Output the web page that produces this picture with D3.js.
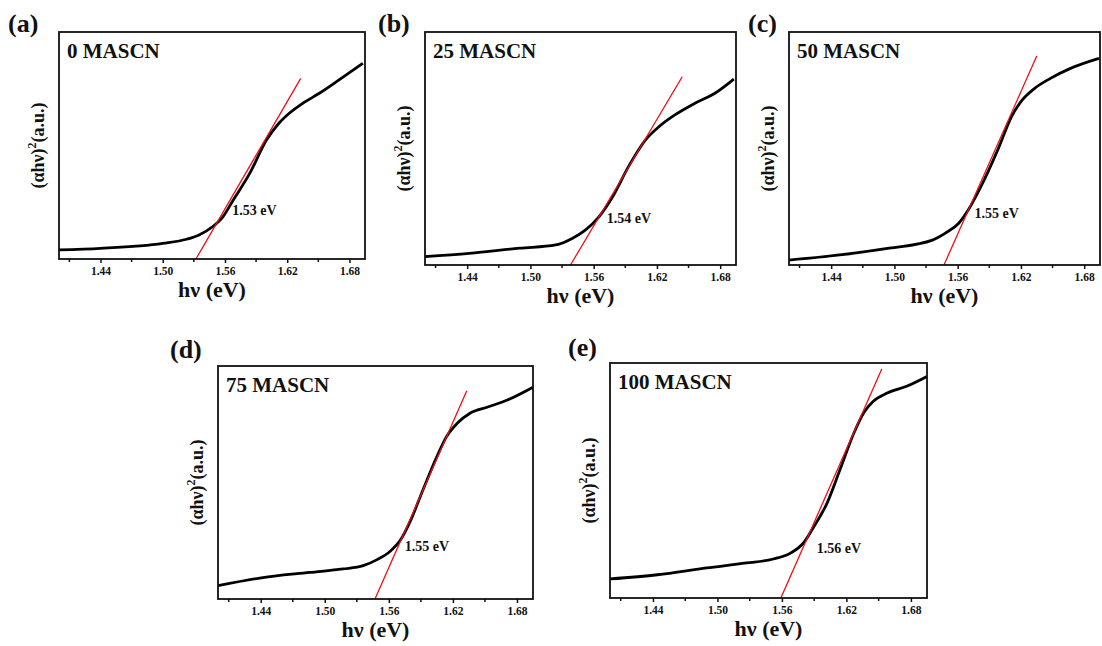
<!DOCTYPE html>
<html lang="en">
<head>
  <meta charset="UTF-8">
  <title>Tauc plots MASCN</title>
  <script src="https://d3js.org/d3.v7.min.js"></script>
  <style>
    body { margin: 0; background: #fff; }
    svg text { font-family: "Liberation Serif", "Times New Roman", serif; font-weight: bold; fill: #111; }
  </style>
</head>
<body>
<svg id="chart" width="1102" height="646"></svg>
<script>
  // Données (y en unités arbitraires, 0 = bas du cadre, 100 = haut)
  const panelTags = ["(a)", "(b)", "(c)", "(d)", "(e)"];
  const samples = ["0 MASCN", "25 MASCN", "50 MASCN", "75 MASCN", "100 MASCN"];
  const gapLabels = ["1.53 eV", "1.54 eV", "1.55 eV", "1.55 eV", "1.56 eV"];
  const xTicks = [1.44, 1.50, 1.56, 1.62, 1.68];
  const xMinorTicks = [1.41, 1.47, 1.53, 1.59, 1.65];

  const hvA  = [1.400, 1.440, 1.500, 1.523, 1.535, 1.548, 1.558, 1.568, 1.584, 1.600, 1.612, 1.622, 1.635, 1.651, 1.670, 1.693];
  const absA = [4.0, 4.7, 6.9, 8.7, 10.6, 14.2, 18.6, 26.0, 37.8, 52.4, 59.8, 64.2, 68.6, 73.0, 78.9, 86.2];

  const hvB  = [1.400, 1.442, 1.490, 1.524, 1.540, 1.552, 1.565, 1.578, 1.593, 1.609, 1.622, 1.637, 1.656, 1.675, 1.693];
  const absB = [3.6, 5.0, 7.2, 8.6, 11.5, 15.0, 20.7, 29.3, 42.2, 53.6, 59.4, 64.4, 69.4, 73.7, 79.8];

  const hvC  = [1.400, 1.448, 1.495, 1.536, 1.548, 1.561, 1.570, 1.582, 1.598, 1.611, 1.620, 1.633, 1.648, 1.667, 1.694];
  const absC = [2.1, 4.3, 7.2, 10.7, 13.6, 17.9, 23.6, 33.6, 49.4, 63.6, 70.1, 75.8, 80.1, 84.4, 88.7];

  const hvD  = [1.400, 1.439, 1.486, 1.517, 1.536, 1.549, 1.561, 1.571, 1.580, 1.592, 1.605, 1.614, 1.624, 1.636, 1.652, 1.671, 1.695];
  const absD = [5.7, 9.0, 11.4, 12.9, 14.3, 16.9, 20.4, 25.4, 33.3, 46.9, 61.1, 69.7, 75.4, 79.7, 82.3, 85.4, 90.9];

  const hvE  = [1.400, 1.444, 1.490, 1.527, 1.552, 1.568, 1.580, 1.589, 1.602, 1.614, 1.627, 1.636, 1.645, 1.658, 1.676, 1.695];
  const absE = [8.1, 9.9, 12.8, 14.9, 16.6, 19.1, 23.4, 29.8, 40.4, 54.6, 70.2, 78.7, 83.7, 87.2, 90.1, 94.3];

  // Droites de Tauc : [x début, x fin] et [y début, y fin]
  const tangentX = [[1.532, 1.633], [1.538, 1.644], [1.547, 1.635], [1.547, 1.633], [1.559, 1.653]];
  const tangentY = [[0, 79.6], [0, 80.8], [0, 89.7], [0, 89.4], [0, 97.6]];

  const hvSeries = [hvA, hvB, hvC, hvD, hvE];
  const absSeries = [absA, absB, absC, absD, absE];

  // Mise en page (pixels)
  const frames = [
    {left: 59,  top: 32,  right: 365,  bottom: 259, tagX: 8,   tagY: 32},
    {left: 425, top: 32,  right: 736,  bottom: 265, tagX: 378, tagY: 32},
    {left: 789, top: 32,  right: 1100, bottom: 265, tagX: 748, tagY: 32},
    {left: 218, top: 366, right: 533,  bottom: 599, tagX: 170, tagY: 358},
    {left: 610, top: 363, right: 927,  bottom: 598, tagX: 568, tagY: 356}
  ];
  const gapLabelAt = [[1.567, 19.4], [1.5725, 18], [1.576, 20.2], [1.575, 20.4], [1.5925, 19.3]];

  const svg = d3.select("#chart");

  frames.forEach((f, i) => {
    const w = f.right - f.left;
    const h = f.bottom - f.top;
    const g = svg.append("g").attr("transform", `translate(${f.left},${f.top})`);

    const x = d3.scaleLinear().domain([1.40, 1.695]).range([0, w]);
    const y = d3.scaleLinear().domain([0, 100]).range([h, 0]);

    // Axe x : graduations majeures + mineures
    const xAxis = g.append("g")
      .attr("transform", `translate(0,${h})`)
      .call(d3.axisBottom(x).tickValues(xTicks).tickFormat(d3.format(".2f")).tickSize(4).tickPadding(4));
    xAxis.select(".domain").remove();
    xAxis.selectAll("line").attr("stroke", "#111").attr("stroke-width", 1.5);
    xAxis.selectAll("text").attr("font-size", 11.5).attr("fill", "#333");

    g.append("g")
      .attr("transform", `translate(0,${h})`)
      .selectAll("line")
      .data(xMinorTicks)
      .join("line")
        .attr("x1", d => x(d)).attr("x2", d => x(d))
        .attr("y1", 0).attr("y2", 3)
        .attr("stroke", "#111").attr("stroke-width", 1.5);

    // Courbe
    const pts = hvSeries[i].map((v, k) => [v, absSeries[i][k]]);
    const line = d3.line()
      .x(d => x(d[0]))
      .y(d => y(d[1]))
      .curve(d3.curveMonotoneX);

    g.append("path")
      .datum(pts)
      .attr("fill", "none")
      .attr("stroke", "#000")
      .attr("stroke-width", 2.8)
      .attr("stroke-linejoin", "round")
      .attr("d", line);

    // Tangente
    g.append("line")
      .attr("x1", x(tangentX[i][0])).attr("y1", y(tangentY[i][0]))
      .attr("x2", x(tangentX[i][1])).attr("y2", y(tangentY[i][1]))
      .attr("stroke", "#e8101a")
      .attr("stroke-width", 1.3);

    // Cadre
    g.append("rect")
      .attr("width", w).attr("height", h)
      .attr("fill", "none")
      .attr("stroke", "#111")
      .attr("stroke-width", 1.8);

    // Textes
    g.append("text")
      .attr("x", 8).attr("y", 26)
      .attr("font-size", 21)
      .text(samples[i]);

    g.append("text")
      .attr("x", x(gapLabelAt[i][0])).attr("y", y(gapLabelAt[i][1]))
      .attr("font-size", 14)
      .attr("fill", "#222")
      .text(gapLabels[i]);

    g.append("text")
      .attr("x", w / 2).attr("y", h + 38)
      .attr("text-anchor", "middle")
      .attr("font-size", 22)
      .text("hν (eV)");

    const yl = g.append("text")
      .attr("transform", `translate(-15,${h / 2}) rotate(-90)`)
      .attr("text-anchor", "middle")
      .attr("font-size", 18);
    yl.append("tspan").text("(αhν)");
    yl.append("tspan").attr("font-size", 12).attr("dy", -8).text("2");
    yl.append("tspan").attr("dy", 8).text("(a.u.)");

    svg.append("text")
      .attr("x", f.tagX).attr("y", f.tagY)
      .attr("font-size", 26)
      .text(panelTags[i]);
  });
</script>
</body>
</html>
